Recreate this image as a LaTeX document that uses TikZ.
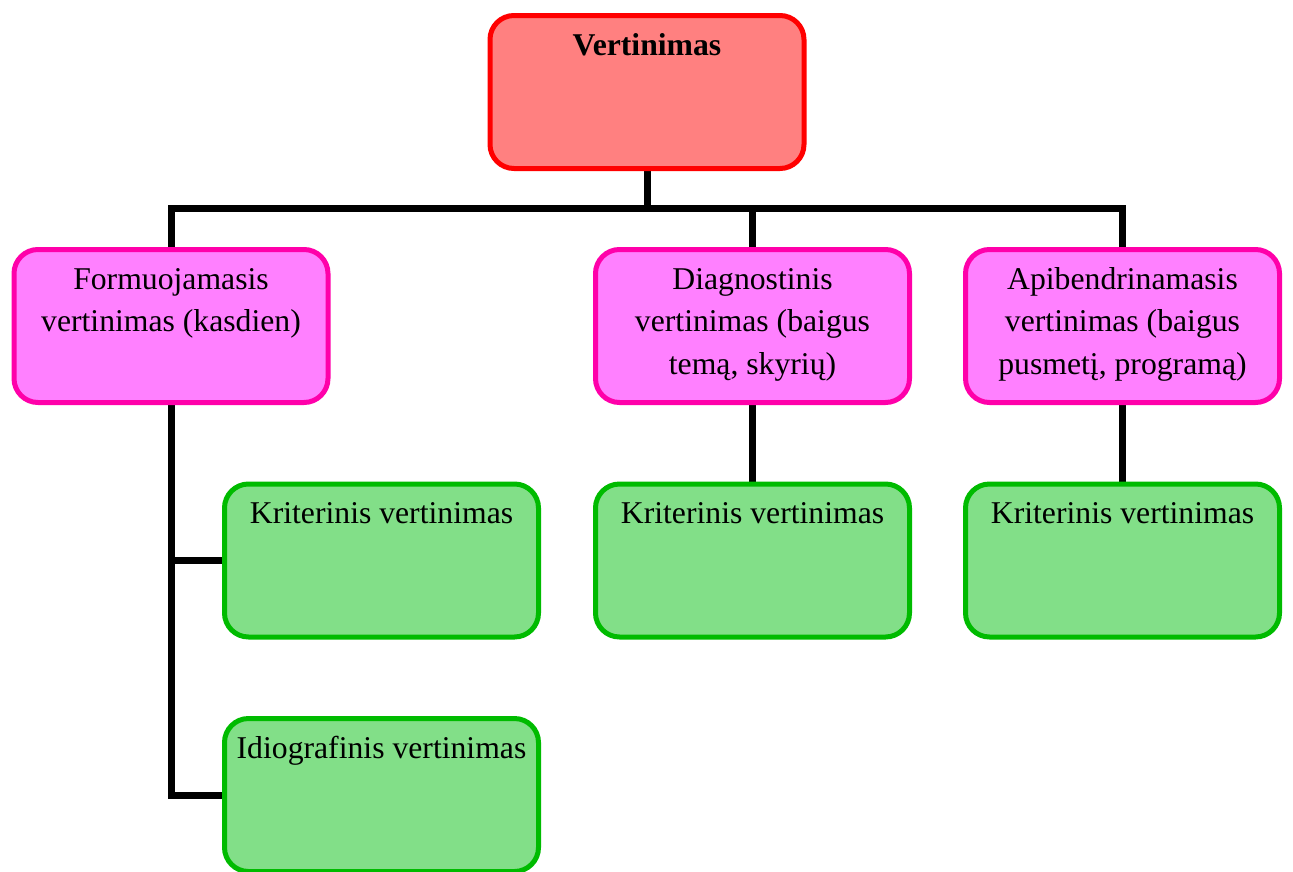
\documentclass[tikz,border=0pt]{standalone}
\usepackage{fontspec}
\setmainfont{Liberation Serif}
\usetikzlibrary{backgrounds}
\definecolor{rootfill}{RGB}{255,128,128}
\definecolor{rootdraw}{RGB}{255,0,0}
\definecolor{magfill}{RGB}{255,128,255}
\definecolor{magdraw}{RGB}{255,0,170}
\definecolor{grnfill}{RGB}{130,223,136}
\definecolor{grndraw}{RGB}{0,187,0}
\tikzset{
  box/.style={rectangle, rounded corners=24pt, line width=5pt, outer sep=0pt,
    inner xsep=0pt, inner ysep=0pt, minimum width=314pt,
    text height=39.5pt, text depth=113.5pt,
    font=\fontsize{31.7}{42.5}\selectfont},
  rootbox/.style={box, draw=rootdraw, fill=rootfill, font=\fontsize{31.7}{42.5}\selectfont\bfseries},
  magbox/.style={box, draw=magdraw, fill=magfill},
  grnbox/.style={box, draw=grndraw, fill=grnfill},
  conn/.style={line width=7pt, black}
}
\newcommand{\boxtext}[1]{\begin{tabular}[t]{@{}c@{}}#1\end{tabular}}
\begin{document}
\begin{tikzpicture}[x=1pt,y=-1pt]
\useasboundingbox (0,0) rectangle (1293,871);
\node[rootbox] (root) at (647,92) {\boxtext{Vertinimas}};
\node[magbox] (m1) at (171,326) {\boxtext{Formuojamasis\\vertinimas (kasdien)}};
\node[magbox] (m2) at (752.5,326) {\boxtext{Diagnostinis\\vertinimas (baigus\\temą, skyrių)}};
\node[magbox] (m3) at (1122.5,326) {\boxtext{Apibendrinamasis\\vertinimas (baigus\\pusmetį, programą)}};
\node[grnbox] (k1) at (381.5,560.5) {\boxtext{Kriterinis vertinimas}};
\node[grnbox] (k2) at (752.5,560.5) {\boxtext{Kriterinis vertinimas}};
\node[grnbox] (k3) at (1122.5,560.5) {\boxtext{Kriterinis vertinimas}};
\node[grnbox] (i1) at (381.5,795) {\boxtext{Idiografinis vertinimas}};
\coordinate (bar) at (0,208);
\begin{scope}[on background layer]
\draw[conn] (root.south) -- (root.south |- bar);
\draw[conn] (m1.north) -- (m1.north |- bar) -- (m3.north |- bar) -- (m3.north);
\draw[conn] (m2.north) -- (m2.north |- bar);
\draw[conn] (m1.south) |- (i1.west);
\draw[conn] (m1.south |- k1.west) -- (k1.west);
\draw[conn] (m2.south) -- (k2.north);
\draw[conn] (m3.south) -- (k3.north);
\end{scope}
\end{tikzpicture}
\end{document}
